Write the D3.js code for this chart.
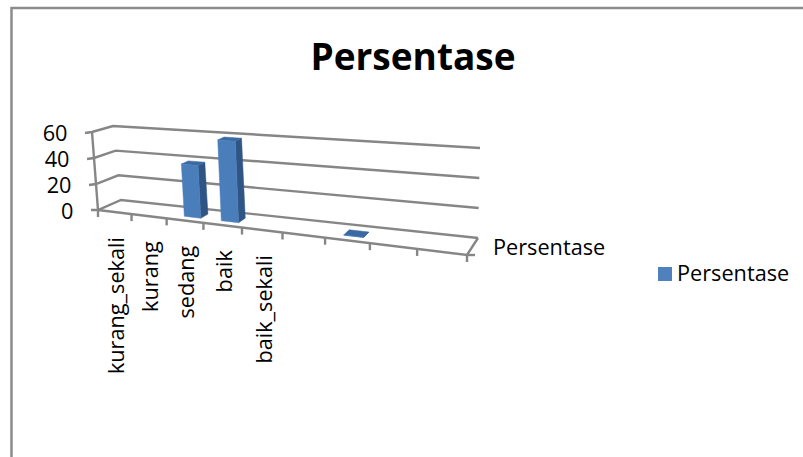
<!DOCTYPE html>
<html><head><meta charset="utf-8">
<script src="https://cdn.jsdelivr.net/npm/d3@7"></script>
<style>html,body{margin:0;padding:0;background:#fff}svg{display:block}text{font-family:"Open Sans",sans-serif;fill:#000}</style>
</head><body><svg id="c" width="803" height="457"></svg>
<script>
const categories = ["kurang_sekali","kurang","sedang","baik","baik_sekali","","","",""];
const values = [null,null,39,59,null,null,0,null,null];
const valueTicks = [0,20,40,60];
const seriesName = "Persentase";
const titleText = "Persentase";

const svg = d3.select("#c");
const GRID = "#868686";
const floorC = {fl:[98,210],fr:[467,255],bl:[121,200],br:[478,238]};
const topC   = {fl:[92,132],fr:[470,160],bl:[113,126],br:[480,148]};
const iScale = d3.scaleLinear().domain([0,categories.length]).range([0,1]);
const persp = t => t/(t+1.25*(1-t));
const vScale = d3.scaleLinear().domain([0,60]).range([0,1]);
const lerp = (a,b,t)=>[a[0]+(b[0]-a[0])*t,a[1]+(b[1]-a[1])*t];
function plane(c,u,d){return lerp(lerp(c.fl,c.fr,u),lerp(c.bl,c.br,u),d);}
function P(i,d,v){
  const u=persp(iScale(i));
  return lerp(plane(floorC,u,d),plane(topC,u,d),vScale(v));
}
const line=d3.line();
const poly=pts=>line(pts)+"Z";

svg.append("path").attr("d","M11.5,457V8H803").attr("fill","none").attr("stroke","#8c8c8c").attr("stroke-width",2.5);

svg.append("text").attr("x",413).attr("y",70).attr("text-anchor","middle").attr("font-size",37).attr("font-weight",700).text(titleText);

const g=svg.append("g").attr("fill","none").attr("stroke",GRID).attr("stroke-width",2.4);
const n=categories.length;
valueTicks.forEach(v=>{
  const a=P(0,0,v),b=P(0,1,v),c=P(n,1,v);
  const e=[a[0]-7,a[1]+(v>0?1:0)];
  g.append("path").attr("d",line([e,a,b,c]));
});
g.append("path").attr("d",line([P(0,0,0),P(0,0,60)]));
g.append("path").attr("d",line([P(0,0,0),P(n,0,0),P(n,1,0)]));
d3.range(n+1).forEach(i=>{
  const a=P(i,0,0);
  g.append("path").attr("d",line([a,[a[0],a[1]+7]]));
});
const fr=P(n,0,0);
g.append("path").attr("d",line([fr,[fr[0]+8,fr[1]]]));

const faces=[];
values.forEach((v,i)=>{ if(v!==null) faces.push({v,i}); });
const w0=0.32,w1=0.77,d0=0.3,d1=0.66;
const bars=svg.append("g").selectAll("g").data(faces).join("g");
bars.append("path").attr("fill","#2f5584").attr("stroke","#2f5584").attr("stroke-width",.5)
  .attr("d",b=>poly([P(b.i+w1,d0,0),P(b.i+w1,d1,0),P(b.i+w1,d1,b.v),P(b.i+w1,d0,b.v)]));
bars.append("path").attr("fill","#3b69a3").attr("stroke","#3b69a3").attr("stroke-width",.5)
  .attr("d",b=>poly([P(b.i+w0,d0,b.v),P(b.i+w1,d0,b.v),P(b.i+w1,d1,b.v),P(b.i+w0,d1,b.v)]));
bars.append("path").attr("fill","#4a7ebb").attr("stroke","#4a7ebb").attr("stroke-width",.5)
  .attr("d",b=>poly([P(b.i+w0,d0,0),P(b.i+w1,d0,0),P(b.i+w1,d0,b.v),P(b.i+w0,d0,b.v)]));

svg.append("g").selectAll("text").data(valueTicks).join("text")
  .attr("x",v=>P(0,0,v)[0]-24.5).attr("y",v=>P(0,0,v)[1]+9)
  .attr("text-anchor","end").attr("font-size",21.7).text(d=>d);

svg.append("g").selectAll("text").data(categories).join("text")
  .attr("text-anchor","end").attr("font-size",21.7)
  .attr("transform",(d,i)=>{const p=P(i+0.5,0,0);return `translate(${p[0]+9.5},${p[1]+25}) rotate(-90)`;})
  .text(d=>d);

svg.append("text").attr("x",493).attr("y",255).attr("font-size",21.7).text(seriesName);

svg.append("rect").attr("x",658).attr("y",267).attr("width",14).attr("height",14).attr("fill","#4f81bd");
svg.append("text").attr("x",677).attr("y",281).attr("font-size",21.7).text(seriesName);
</script></body></html>
